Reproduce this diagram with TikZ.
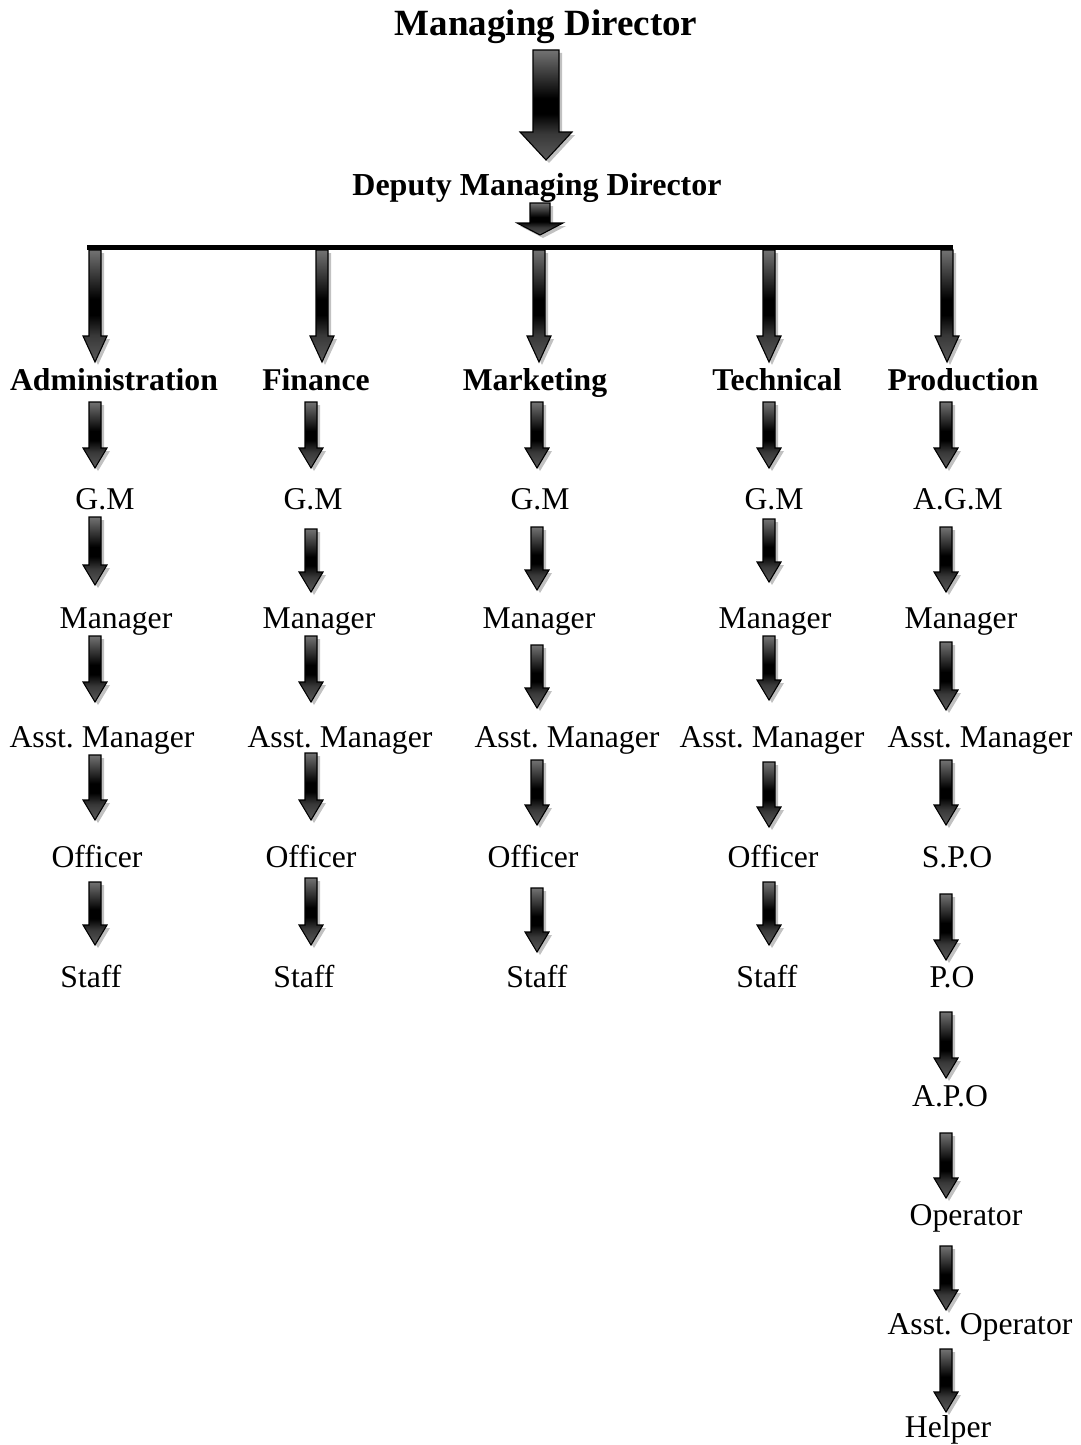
\documentclass[tikz,border=0pt]{standalone}
\usepackage{fontspec}
\setmainfont{Liberation Serif}
\frenchspacing
\pgfdeclareverticalshading{barrowshade}{100bp}{color(0bp)=(black!65); color(25bp)=(black!65); color(37bp)=(black!78); color(46bp)=(black); color(53bp)=(black); color(75bp)=(black!55); color(100bp)=(black!55)}
\tikzset{
  lab/.style={anchor=base, inner sep=0pt, font=\fontsize{31.7}{36}\selectfont},
  head/.style={lab, font=\fontsize{31.7}{36}\selectfont\bfseries},
  arrowbody/.style={shading=barrowshade, draw=black, line width=1.1pt, line join=miter},
  arrowshadow/.style={fill=black!35, opacity=0.7},
}
% block arrow: x, top y, tip y, shaft half width, head half width, head length
\newcommand\blockarr[6]{%
  \fill[arrowshadow, shift={(3,3)}] (#1-#4,#2) -- (#1+#4,#2) -- (#1+#4,#3-#6) -- (#1+#5,#3-#6) -- (#1,#3) -- (#1-#5,#3-#6) -- (#1-#4,#3-#6) -- cycle;
  \shade[arrowbody] (#1-#4,#2) -- (#1+#4,#2) -- (#1+#4,#3-#6) -- (#1+#5,#3-#6) -- (#1,#3) -- (#1-#5,#3-#6) -- (#1-#4,#3-#6) -- cycle;
}
\newcommand\smallarr[3]{\blockarr{#1}{#2}{#3}{6}{12}{20}}
\begin{document}
\begin{tikzpicture}[x=1pt,y=-1pt]
\useasboundingbox (0,0) rectangle (1080,1445);

% top of the hierarchy
\node[head, font=\fontsize{37}{42}\selectfont\bfseries] (md) at (546,36) {Managing Director};
\blockarr{546}{50}{160}{13}{26}{28}
\node[head, font=\fontsize{32}{38}\selectfont\bfseries] (dmd) at (537,195) {Deputy Managing Director};
\blockarr{540}{203}{235}{10}{23}{12}

% distribution bar
\draw[line width=4.5pt] (87,247.5) coordinate (barL) -- (953,247.5) coordinate (barR);

% arrows from the bar to the departments
\foreach \x in {95,322,539,769,947}{\blockarr{\x}{250}{362}{6}{12}{26}}

% departments
\node[head] (adm) at (114,390) {Administration};
\node[head] (fin) at (316,390) {Finance};
\node[head] (mkt) at (535,390) {Marketing};
\node[head] (tec) at (777,390) {Technical};
\node[head] (prd) at (963,390) {Production};

% Administration
\node[lab] (adm1) at (105,509) {G.M};
\node[lab] (adm2) at (116,628) {Manager};
\node[lab] (adm3) at (102,747) {Asst. Manager};
\node[lab] (adm4) at (97,867) {Officer};
\node[lab] (adm5) at (91,987) {Staff};
\smallarr{95}{402}{468}
\smallarr{95}{517}{585}
\smallarr{95}{636}{702}
\smallarr{95}{755}{820}
\smallarr{95}{882}{945}

% Finance
\node[lab] (fin1) at (313,509) {G.M};
\node[lab] (fin2) at (319,628) {Manager};
\node[lab] (fin3) at (340,747) {Asst. Manager};
\node[lab] (fin4) at (311,867) {Officer};
\node[lab] (fin5) at (304,987) {Staff};
\smallarr{311}{402}{468}
\smallarr{311}{529}{592}
\smallarr{311}{636}{702}
\smallarr{311}{753}{820}
\smallarr{311}{878}{945}

% Marketing
\node[lab] (mkt1) at (540,509) {G.M};
\node[lab] (mkt2) at (539,628) {Manager};
\node[lab] (mkt3) at (567,747) {Asst. Manager};
\node[lab] (mkt4) at (533,867) {Officer};
\node[lab] (mkt5) at (537,987) {Staff};
\smallarr{537}{402}{468}
\smallarr{537}{527}{590}
\smallarr{537}{645}{708}
\smallarr{537}{760}{825}
\smallarr{537}{888}{952}

% Technical
\node[lab] (tec1) at (774,509) {G.M};
\node[lab] (tec2) at (775,628) {Manager};
\node[lab] (tec3) at (772,747) {Asst. Manager};
\node[lab] (tec4) at (773,867) {Officer};
\node[lab] (tec5) at (767,987) {Staff};
\smallarr{769}{402}{468}
\smallarr{769}{519}{582}
\smallarr{769}{636}{700}
\smallarr{769}{762}{827}
\smallarr{769}{882}{945}

% Production
\node[lab] (prd1) at (958,509) {A.G.M};
\node[lab] (prd2) at (961,628) {Manager};
\node[lab] (prd3) at (980,747) {Asst. Manager};
\node[lab] (prd4) at (957,867) {S.P.O};
\node[lab] (prd5) at (952,987) {P.O};
\node[lab] (prd6) at (950,1106) {A.P.O};
\node[lab] (prd7) at (966,1225) {Operator};
\node[lab] (prd8) at (980,1334) {Asst. Operator};
\node[lab] (prd9) at (948,1437) {Helper};
\smallarr{946}{402}{468}
\smallarr{946}{527}{592}
\smallarr{946}{642}{710}
\smallarr{946}{760}{825}
\smallarr{946}{894}{960}
\smallarr{946}{1012}{1078}
\smallarr{946}{1133}{1198}
\smallarr{946}{1246}{1310}
\smallarr{946}{1349}{1412}
\end{tikzpicture}
\end{document}
